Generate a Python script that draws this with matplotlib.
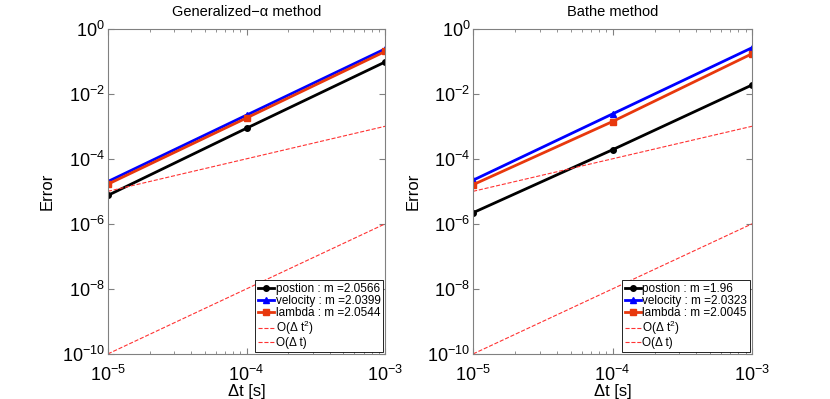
import numpy as np
import matplotlib
matplotlib.use("Agg")
import matplotlib.pyplot as plt
from matplotlib.ticker import LogLocator, NullFormatter

plt.rcParams['font.family'] = ['Liberation Sans', 'DejaVu Sans']
plt.rcParams['mathtext.fontset'] = 'custom'
plt.rcParams['mathtext.rm'] = 'Liberation Sans'

dt = [1e-5, 1e-4, 1e-3]

# Generalized-alpha
ga_pos = [7.5e-6, 8.7e-4, 9.5e-2]
ga_vel = [2.0e-5, 2.2e-3, 2.4e-1]
ga_lam = [1.66e-5, 1.8e-3, 2.0e-1]
ga_m = ["2.0566", "2.0399", "2.0544"]

# Bathe
ba_pos = [2.2e-6, 1.9e-4, 1.86e-2]
ba_vel = [2.2e-5, 2.4e-3, 2.6e-1]
ba_lam = [1.6e-5, 1.4e-3, 1.7e-1]
ba_m = ["1.96", "2.0323", "2.0045"]

ref2 = [1e-10, 1e-6]   # O(dt^2)
ref1 = [1e-5, 1e-3]    # O(dt)
ref_x = [1e-5, 1e-3]

titles = ["Generalized\u2212\u03b1 method", "Bathe method"]

fig = plt.figure(figsize=(8.3, 3.99), dpi=100)
ax1 = fig.add_axes([0.130, 0.113, 0.334, 0.815])
ax2 = fig.add_axes([0.570, 0.113, 0.336, 0.815])

data = [(ga_pos, ga_vel, ga_lam, ga_m), (ba_pos, ba_vel, ba_lam, ba_m)]

for ax, (pos, vel, lam, m), title in zip([ax1, ax2], data, titles):
    ax.loglog(dt, pos, '-o', color='k', lw=2, ms=4, label="postion : m =" + m[0])
    ax.loglog(dt, vel, '-^', color='#0000ff', lw=2, ms=5, label="velocity : m =" + m[1])
    ax.loglog(dt, lam, '-s', color='#e8380d', lw=2, ms=4, label="lambda : m =" + m[2])
    ax.loglog(ref_x, ref2, '--', color='#ff3333', lw=0.8, label="O(\u0394 t$^2$)")
    ax.loglog(ref_x, ref1, '--', color='#ff3333', lw=0.8, label="O(\u0394 t)")
    ax.set_xlim(1e-5, 1e-3)
    ax.set_ylim(1e-10, 1e0)
    ax.set_yticks([1e-10, 1e-8, 1e-6, 1e-4, 1e-2, 1e0])
    ax.yaxis.set_minor_locator(plt.NullLocator())
    ax.xaxis.set_minor_locator(LogLocator(base=10, subs=np.arange(2, 10)))
    ax.xaxis.set_minor_formatter(NullFormatter())
    ax.tick_params(which='both', direction='in', top=True, right=True,
                   color='#808080', labelsize=13)
    ax.tick_params(axis='x', pad=8)
    ax.tick_params(axis='y', pad=2)
    ax.tick_params(which='major', length=4)
    ax.tick_params(which='minor', length=2)
    for s in ax.spines.values():
        s.set_color('#808080')
    ax.set_title(title, fontsize=10.5, pad=9)
    ax.set_xlabel("\u0394t [s]", fontsize=12, labelpad=-1)
    ax.set_ylabel("Error", fontsize=12, labelpad=5)
    leg = ax.legend(loc='lower right', fontsize=8.5, handlelength=1.3,
                    handletextpad=0.15, borderpad=0.25, labelspacing=0.0,
                    fancybox=False, framealpha=1, borderaxespad=0.15)
    leg.get_frame().set_edgecolor('k')
    leg.get_frame().set_linewidth(0.6)

fig.savefig("out.png", dpi=100)
